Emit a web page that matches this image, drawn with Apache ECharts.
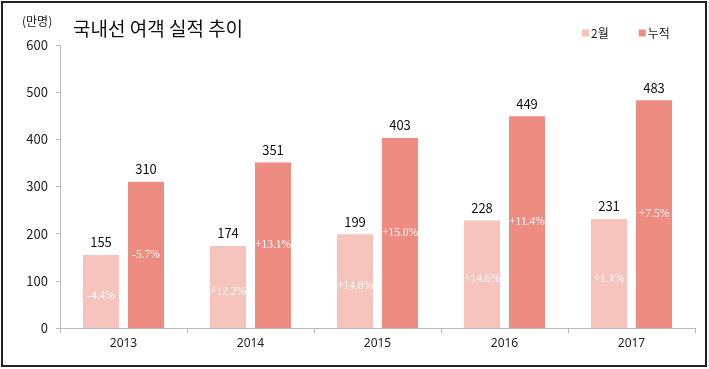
<!DOCTYPE html>
<html>
<head>
<meta charset="utf-8">
<script src="https://cdn.jsdelivr.net/npm/echarts@6/dist/echarts.min.js"></script>
<style>
html,body{margin:0;padding:0;background:#fff;}
#c{width:709px;height:369px;}
</style>
</head>
<body>
<div id="c"></div>
<script>
var categories = ['2013','2014','2015','2016','2017'];
var febValues = [155, 174, 199, 228, 231];
var cumValues = [310, 351, 403, 449, 483];
var febGrowth = ['-4.4%','+12.2%','+14.8%','+14.6%','+1.1%'];
var cumGrowth = ['-5.7%','+13.1%','+15.0%','+11.4%','+7.5%'];

var chart = echarts.init(document.getElementById('c'));
var font = '"Noto Sans CJK KR","Noto Sans",sans-serif';
var numFont = '"Noto Sans","Open Sans",sans-serif';
var pctLabel = {
  show: true, position: 'inside', color: '#fff', fontSize: 11.5,
  fontFamily: '"Liberation Serif","DejaVu Serif",serif'
};
var topLabel = {show: true, position: 'top', color: '#111', fontSize: 13, distance: 6, fontFamily: font};
chart.setOption({
  animation: false,
  textStyle: {fontFamily: font},
  graphic: [
    {type: 'rect', shape: {x: 2, y: 2, width: 704, height: 364},
     style: {fill: 'none', stroke: '#222', lineWidth: 2}},
    {type: 'text', left: 22, top: 15,
     style: {text: '(만명)', fontSize: 12, fill: '#222', fontFamily: font}},
    {type: 'text', left: 73, top: 19,
     style: {text: '국내선 여객 실적 추이', fontSize: 19, fill: '#111', fontFamily: font}}
  ],
  legend: {
    left: 577, top: 22, icon: 'rect', itemWidth: 7, itemHeight: 7, itemGap: 30,
    textStyle: {fontSize: 12, color: '#222', fontFamily: font, padding: [0,0,0,-3]},
    data: ['2월','누적']
  },
  grid: {left: 60, right: 14, top: 45, bottom: 41},
  xAxis: [{
    type: 'category', data: categories,
    axisLine: {lineStyle: {color: '#bbb'}},
    axisTick: {show: true, length: 5, lineStyle: {color: '#bbb'}},
    axisLabel: {color: '#222', fontSize: 12, margin: 10, fontFamily: numFont}
  }, {
    type: 'category', data: categories, show: false, position: 'bottom'
  }],
  yAxis: {
    type: 'value', min: 0, max: 600, interval: 100,
    axisLine: {show: true, lineStyle: {color: '#bbb'}},
    axisTick: {show: true, length: 4, lineStyle: {color: '#bbb'}},
    splitLine: {show: false},
    axisLabel: {color: '#222', fontSize: 13, margin: 12, fontFamily: font}
  },
  series: [
    {
      name: '2월', type: 'bar', xAxisIndex: 0, barWidth: 36, barGap: '25%',
      itemStyle: {color: '#F6C3BD'},
      data: febValues.map(function(v, i){
        return {value: v, label: Object.assign({}, pctLabel, {offset: [0, 5], formatter: febGrowth[i]})};
      })
    },
    {
      name: '누적', type: 'bar', xAxisIndex: 0, barWidth: 36, barGap: '25%',
      itemStyle: {color: '#EF8C82'},
      data: cumValues.map(function(v, i){
        return {value: v, label: Object.assign({}, pctLabel, {formatter: cumGrowth[i]})};
      })
    },
    {
      name: 'febTop', type: 'bar', xAxisIndex: 1, barWidth: 36, barGap: '25%', silent: true,
      itemStyle: {color: 'rgba(0,0,0,0)'}, z: 5,
      data: febValues, label: topLabel
    },
    {
      name: 'cumTop', type: 'bar', xAxisIndex: 1, barWidth: 36, barGap: '25%', silent: true,
      itemStyle: {color: 'rgba(0,0,0,0)'}, z: 5,
      data: cumValues, label: topLabel
    }
  ]
});
</script>
</body>
</html>
